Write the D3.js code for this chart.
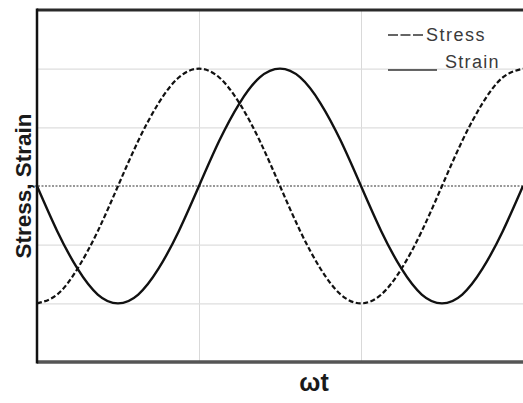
<!DOCTYPE html>
<html>
<head>
<meta charset="utf-8">
<script src="https://cdn.jsdelivr.net/npm/d3@7"></script>
<style>
  html, body { margin: 0; padding: 0; background: #fff; }
  svg { display: block; }
</style>
</head>
<body>
<svg id="chart" width="523" height="403"></svg>
<script>
// ωt in units of π
const omegaT = [0, 0.125, 0.25, 0.375, 0.5, 0.625, 0.75, 0.875, 1, 1.125, 1.25, 1.375, 1.5, 1.625, 1.75, 1.875, 2, 2.125, 2.25, 2.375, 2.5, 2.625, 2.75, 2.875, 3];
const stressValues = [-2, -1.85, -1.41, -0.77, 0, 0.77, 1.41, 1.85, 2, 1.85, 1.41, 0.77, 0, -0.77, -1.41, -1.85, -2, -1.85, -1.41, -0.77, 0, 0.77, 1.41, 1.85, 2];
const strainValues = [0, -0.77, -1.41, -1.85, -2, -1.85, -1.41, -0.77, 0, 0.77, 1.41, 1.85, 2, 1.85, 1.41, 0.77, 0, -0.77, -1.41, -1.85, -2, -1.85, -1.41, -0.77, 0];
const xGridTicks = [1, 2];
const yGridTicks = [-2, -1, 1, 2];
const seriesNames = ["Stress", "Strain"];
const xLabel = "ωt";
const yLabel = "Stress, Strain";

const svg = d3.select("#chart");
const L = 37, R = 523, T = 10, B = 362;
const x = d3.scaleLinear().domain([0, 3]).range([L, R]);
const y = d3.scaleLinear().domain([-3, 3]).range([B, T]);

// grid
svg.append("g").attr("transform", `translate(0,${B})`)
  .call(d3.axisBottom(x).tickValues(xGridTicks).tickSize(-(B - T)).tickFormat(""))
  .call(g => g.select(".domain").remove())
  .call(g => g.selectAll("line").attr("stroke", "#d9d9d9").attr("stroke-width", 1));
svg.append("g").attr("transform", `translate(${L},0)`)
  .call(d3.axisLeft(y).tickValues(yGridTicks).tickSize(-(R - L)).tickFormat(""))
  .call(g => g.select(".domain").remove())
  .call(g => g.selectAll("line").attr("stroke", "#dedede").attr("stroke-width", 1.3));

// zero line dotted
svg.append("line")
  .attr("x1", L - 6).attr("x2", R)
  .attr("y1", y(0)).attr("y2", y(0))
  .attr("stroke", "#777").attr("stroke-width", 1.4).attr("stroke-dasharray", "2,1.5");

// frame
svg.append("line").attr("x1", L).attr("x2", R).attr("y1", T).attr("y2", T)
  .attr("stroke", "#2a2a2a").attr("stroke-width", 3);
svg.append("line").attr("x1", L).attr("x2", R).attr("y1", B).attr("y2", B)
  .attr("stroke", "#555").attr("stroke-width", 3.5);
svg.append("line").attr("x1", L).attr("x2", L).attr("y1", T - 1.5).attr("y2", B + 1.5)
  .attr("stroke", "#111").attr("stroke-width", 2.5);

const line = d3.line().x((d, i) => x(omegaT[i])).y(d => y(d)).curve(d3.curveNatural);

svg.append("path").datum(stressValues).attr("d", line)
  .attr("fill", "none").attr("stroke", "#111").attr("stroke-width", 2.2)
  .attr("stroke-dasharray", "5,2.5");
svg.append("path").datum(strainValues).attr("d", line)
  .attr("fill", "none").attr("stroke", "#111").attr("stroke-width", 2.4);

// legend
const lg = svg.append("g");
lg.append("line").attr("x1", 388).attr("x2", 425).attr("y1", 35).attr("y2", 35)
  .attr("stroke", "#333").attr("stroke-width", 1.6).attr("stroke-dasharray", "10,2.5");
lg.append("text").attr("x", 426).attr("y", 41).text(seriesNames[0])
  .attr("font-family", "Liberation Sans, Arial, sans-serif").attr("font-size", 18)
  .attr("letter-spacing", 1.5).attr("fill", "#3a3a3a");
lg.append("line").attr("x1", 388).attr("x2", 437).attr("y1", 70).attr("y2", 70)
  .attr("stroke", "#333").attr("stroke-width", 1.6);
lg.append("text").attr("x", 445).attr("y", 68).text(seriesNames[1])
  .attr("font-family", "Liberation Sans, Arial, sans-serif").attr("font-size", 18)
  .attr("letter-spacing", 1.3).attr("fill", "#3a3a3a");

// axis labels
svg.append("text").attr("transform", `translate(31,186) rotate(-90)`)
  .attr("text-anchor", "middle").text(yLabel)
  .attr("font-family", "Liberation Sans, Arial, sans-serif").attr("font-weight", "bold")
  .attr("font-size", 22).attr("textLength", 145).attr("lengthAdjust", "spacingAndGlyphs")
  .attr("fill", "#1a1a1a");
svg.append("text").attr("x", 314).attr("y", 391)
  .attr("text-anchor", "middle").text(xLabel)
  .attr("font-family", "Liberation Sans, Arial, sans-serif").attr("font-weight", "bold")
  .attr("font-size", 25).attr("fill", "#1a1a1a");
</script>
</body>
</html>
